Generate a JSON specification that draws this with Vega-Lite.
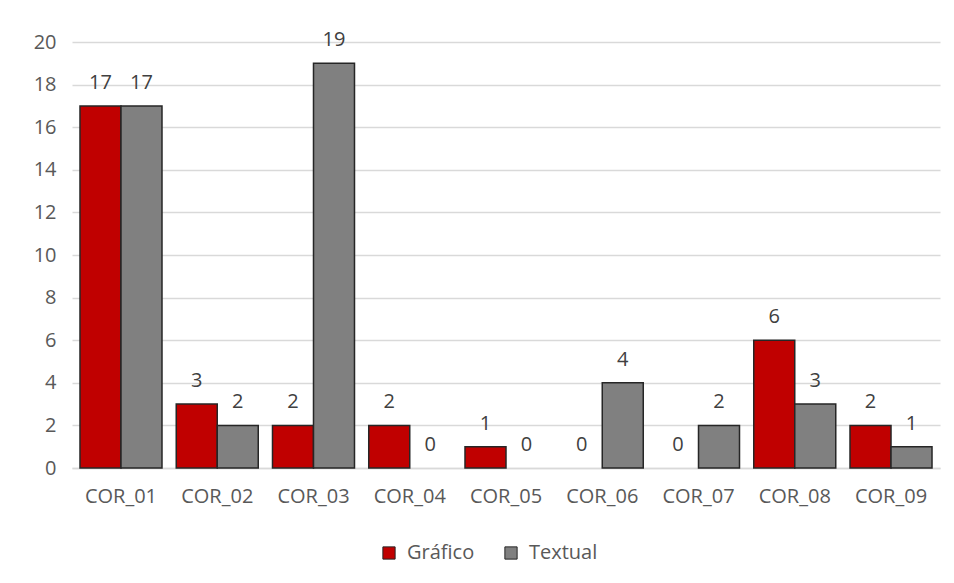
{
  "$schema": "https://vega.github.io/schema/vega-lite/v6.json",
  "width": 868,
  "height": 426,
  "autosize": "none",
  "padding": {"left": 72, "top": 42, "right": 14, "bottom": 115},
  "background": "white",
  "config": {
    "font": "Open Sans",
    "view": {"stroke": null},
    "axis": {"labelFont": "Open Sans", "labelColor": "#595959", "labelFontSize": 20}
  },
  "data": {
    "values": [
      {"Codigo": "COR_01", "Tipo": "Gráfico", "Cantidad": 17},
      {"Codigo": "COR_01", "Tipo": "Textual", "Cantidad": 17},
      {"Codigo": "COR_02", "Tipo": "Gráfico", "Cantidad": 3},
      {"Codigo": "COR_02", "Tipo": "Textual", "Cantidad": 2},
      {"Codigo": "COR_03", "Tipo": "Gráfico", "Cantidad": 2},
      {"Codigo": "COR_03", "Tipo": "Textual", "Cantidad": 19},
      {"Codigo": "COR_04", "Tipo": "Gráfico", "Cantidad": 2},
      {"Codigo": "COR_04", "Tipo": "Textual", "Cantidad": 0},
      {"Codigo": "COR_05", "Tipo": "Gráfico", "Cantidad": 1},
      {"Codigo": "COR_05", "Tipo": "Textual", "Cantidad": 0},
      {"Codigo": "COR_06", "Tipo": "Gráfico", "Cantidad": 0},
      {"Codigo": "COR_06", "Tipo": "Textual", "Cantidad": 4},
      {"Codigo": "COR_07", "Tipo": "Gráfico", "Cantidad": 0},
      {"Codigo": "COR_07", "Tipo": "Textual", "Cantidad": 2},
      {"Codigo": "COR_08", "Tipo": "Gráfico", "Cantidad": 6},
      {"Codigo": "COR_08", "Tipo": "Textual", "Cantidad": 3},
      {"Codigo": "COR_09", "Tipo": "Gráfico", "Cantidad": 2},
      {"Codigo": "COR_09", "Tipo": "Textual", "Cantidad": 1}
    ]
  },
  "encoding": {
    "x": {
      "field": "Codigo",
      "type": "nominal",
      "scale": {"paddingInner": 0.148, "paddingOuter": 0.083},
      "axis": {
        "title": null,
        "labelAngle": 0,
        "ticks": false,
        "domainColor": "#d9d9d9",
        "domainWidth": 1.5,
        "labelPadding": 18
      }
    },
    "xOffset": {"field": "Tipo", "type": "nominal", "scale": {"paddingInner": 0, "paddingOuter": 0}},
    "y": {
      "field": "Cantidad",
      "type": "quantitative",
      "scale": {"domain": [0, 20], "nice": false},
      "axis": {
        "title": null,
        "values": [0, 2, 4, 6, 8, 10, 12, 14, 16, 18, 20],
        "domain": false,
        "ticks": false,
        "gridColor": "#d9d9d9",
        "gridWidth": 1.5,
        "labelPadding": 16
      }
    }
  },
  "layer": [
    {
      "mark": {"type": "bar", "strokeWidth": 1.5},
      "encoding": {
        "color": {
          "field": "Tipo",
          "type": "nominal",
          "scale": {"domain": ["Gráfico", "Textual"], "range": ["#c00000", "#808080"]},
          "legend": {
            "title": null,
            "orient": "none",
            "direction": "horizontal",
            "legendX": 307,
            "legendY": 501,
            "symbolType": "square",
            "symbolSize": 150,
            "symbolStrokeColor": "#262626",
            "symbolStrokeWidth": 1,
            "labelFontSize": 20,
            "labelColor": "#595959",
            "labelFont": "Open Sans",
            "columnPadding": 26,
            "labelOffset": 8
          }
        },
        "stroke": {
          "condition": {"test": "datum.Cantidad > 0", "value": "#262626"},
          "value": null
        }
      }
    },
    {
      "mark": {"type": "text", "baseline": "bottom", "dy": -13, "fontSize": 20, "color": "#404040", "font": "Open Sans"},
      "encoding": {"text": {"field": "Cantidad", "type": "quantitative"}}
    }
  ]
}
